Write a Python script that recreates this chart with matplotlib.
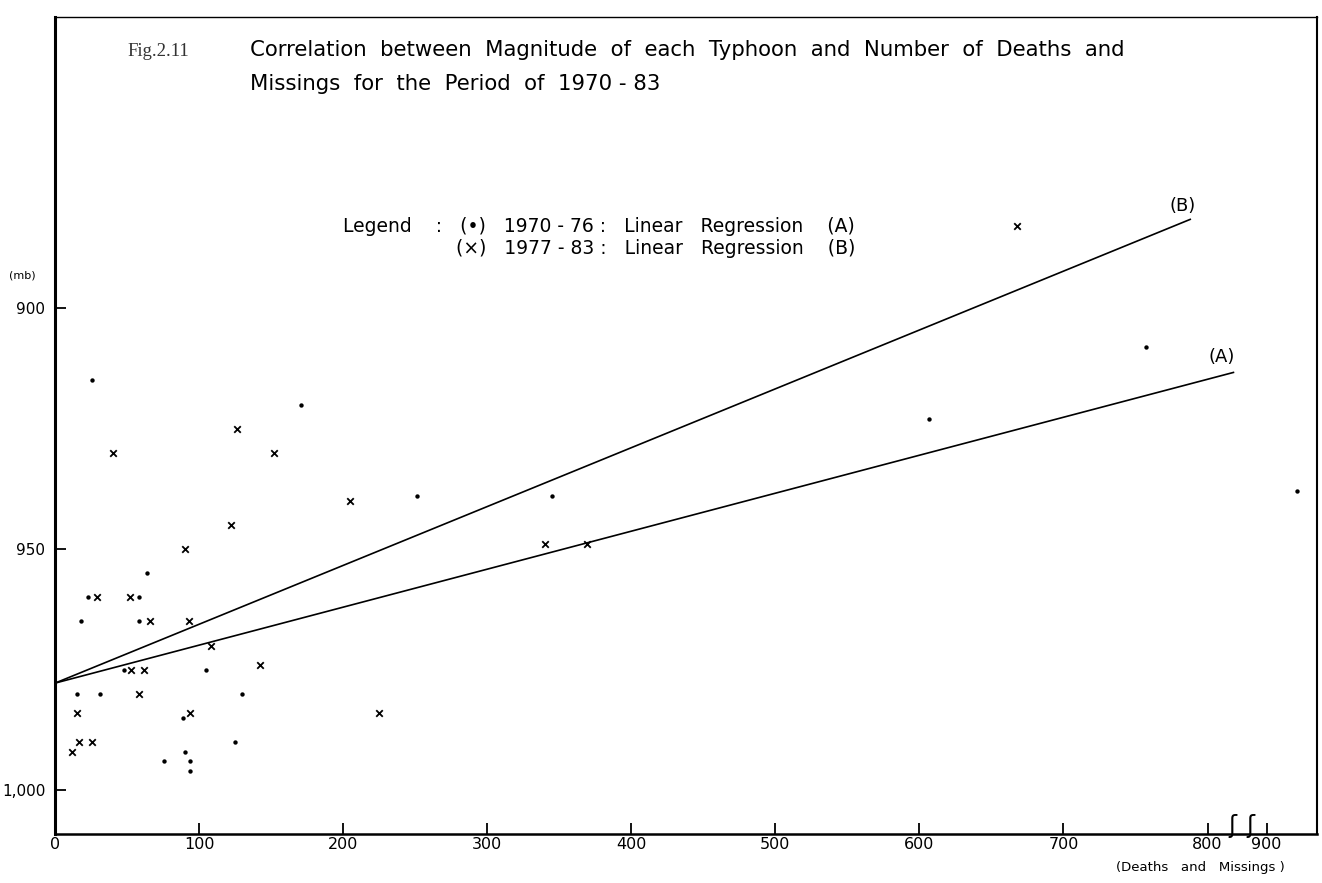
import numpy as np
import matplotlib
matplotlib.use("Agg")
import matplotlib.pyplot as plt
import matplotlib.transforms as mtransforms
from matplotlib.ticker import FixedLocator, NullLocator

# (•) typhoons 1970-76: deaths and missings vs central pressure (mb)
deaths_a = [26, 171, 251, 64, 23, 58, 18, 58, 48, 105, 15, 31, 130, 89,
            125, 90, 76, 94, 94, 345, 757, 607, 921]
press_a = [915, 920, 939, 955, 960, 960, 965, 965, 975, 975, 980, 980, 980, 985,
           990, 992, 994, 994, 996, 939, 908, 923, 938]

# (x) typhoons 1977-83
deaths_b = [40, 126, 152, 205, 122, 90, 29, 52, 66, 93, 108, 53, 62, 142,
            58, 15, 94, 225, 17, 26, 12, 340, 369, 668]
press_b = [930, 925, 930, 940, 945, 950, 960, 960, 965, 965, 970, 975, 975, 974,
           980, 984, 984, 984, 990, 990, 992, 949, 949, 883]

# regression lines (A) and (B): intercept, slope, last x
reg_names = ["(A)", "(B)"]
reg_intercept = [977.8, 977.8]
reg_slope = [-0.0788, -0.1221]
reg_xend = [818, 788]

x_ticks = [0, 100, 200, 300, 400, 500, 600, 700, 800, 900]
y_ticks = [900, 950, 1000]
y_ticklabels = ["900", "950", "1,000"]

W, H = 1322, 883


def fx(x, y):
    return x / W, 1 - y / H


# broken x axis: the stretch between ~825 and ~885 is cut out
brk_x = [-100, 825, 885, 3000]
brk_f = [-100, 825, 826, 2941]


def fwd(v):
    return np.interp(v, brk_x, brk_f)


def inv(v):
    return np.interp(v, brk_f, brk_x)


plt.rcParams['font.family'] = ['DejaVu Sans']

fig = plt.figure(figsize=(W / 100, H / 100), dpi=100)
ax = fig.add_axes([55 / W, 1 - 834 / H, (1317 - 55) / W, (834 - 17) / H])

ax.set_xscale('function', functions=(fwd, inv))
ax.set_xlim(0, 935)
ax.set_ylim(1009.1, 839.6)

ax.scatter(deaths_a, press_a, s=10, c='black', marker='o', linewidths=0)
ax.scatter(deaths_b, press_b, s=22, c='black', marker='x', linewidths=1.3)

for name, b0, b1, xe in zip(reg_names, reg_intercept, reg_slope, reg_xend):
    xs = np.array([0, xe])
    ax.plot(xs, b0 + b1 * xs, color='black', lw=1.2)

ax.xaxis.set_major_locator(FixedLocator(x_ticks))
ax.xaxis.set_minor_locator(NullLocator())
ax.set_xticklabels([str(t) for t in x_ticks])
ax.yaxis.set_major_locator(FixedLocator(y_ticks))
ax.set_yticklabels(y_ticklabels)
ax.tick_params(direction='in', length=8, width=1.3, labelsize=11.5)
ax.tick_params(axis='x', pad=2)
ax.tick_params(axis='y', pad=7, labelsize=11)
ax.spines['left'].set_linewidth(2.2)
ax.spines['bottom'].set_linewidth(1.8)
ax.spines['top'].set_linewidth(1.0)
ax.spines['right'].set_linewidth(1.5)

# break marks on the x axis
trans = mtransforms.blended_transform_factory(ax.transData, ax.transAxes)
for bx in [817, 889]:
    ax.text(bx, 0.01, 'ʃ', transform=trans, ha='center', va='center',
            fontsize=17, color='black')

# line labels
fig.text(*fx(1183, 206), '(B)', ha='center', va='center', fontsize=13)
fig.text(*fx(1222, 357), '(A)', ha='center', va='center', fontsize=13)

# titles
fig.text(*fx(127, 52), 'Fig.2.11', ha='left', va='center', fontsize=13.5,
         family='Liberation Serif', color='#333333')
fig.text(*fx(250, 50),
         'Correlation  between  Magnitude  of  each  Typhoon  and  Number  of  Deaths  and',
         ha='left', va='center', fontsize=15.3)
fig.text(*fx(250, 84), 'Missings  for  the  Period  of  1970 - 83',
         ha='left', va='center', fontsize=15.3)

# legend text, both lines end at the same x
fig.text(*fx(855, 226), 'Legend    :   (•)   1970 - 76 :   Linear   Regression    (A)',
         ha='right', va='center', fontsize=13.5)
fig.text(*fx(855, 248), '(×)   1977 - 83 :   Linear   Regression    (B)',
         ha='right', va='center', fontsize=13.5)

# axis labels
fig.text(*fx(22, 275), '(mb)', ha='center', va='center', fontsize=8)
fig.text(*fx(1200, 868), '(Deaths   and   Missings )', ha='center', va='center',
         fontsize=9.5)

fig.savefig('out.png', dpi=100, facecolor='white')
